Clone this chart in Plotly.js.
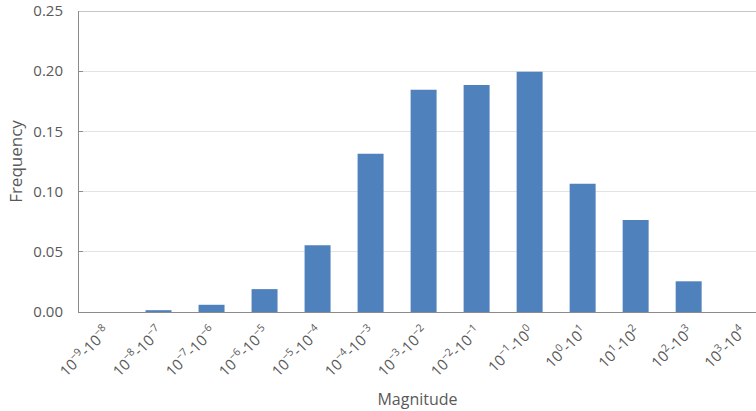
<!DOCTYPE html>
<html>
<head>
<meta charset="utf-8">
<script src="https://cdn.plot.ly/plotly-3.0.1.min.js"></script>
<style>html,body{margin:0;padding:0;background:#fff;}#chart{width:756px;height:411px;}</style>
</head>
<body>
<div id="chart"></div>
<script>
var categories = ["10<sup>−9</sup>-10<sup>−8</sup>", "10<sup>−8</sup>-10<sup>−7</sup>", "10<sup>−7</sup>-10<sup>−6</sup>",
  "10<sup>−6</sup>-10<sup>−5</sup>", "10<sup>−5</sup>-10<sup>−4</sup>", "10<sup>−4</sup>-10<sup>−3</sup>",
  "10<sup>−3</sup>-10<sup>−2</sup>", "10<sup>−2</sup>-10<sup>−1</sup>", "10<sup>−1</sup>-10<sup>0</sup>",
  "10<sup>0</sup>-10<sup>1</sup>", "10<sup>1</sup>-10<sup>2</sup>", "10<sup>2</sup>-10<sup>3</sup>",
  "10<sup>3</sup>-10<sup>4</sup>"];
var frequency = [0, 0.0015, 0.006, 0.019, 0.0555, 0.1315, 0.1845, 0.1885, 0.1995, 0.1065, 0.0765, 0.0255, 0];
var yTicks = [0, 0.05, 0.10, 0.15, 0.20, 0.25];

var trace = {
  type: 'bar',
  x: categories.map(function(c, i){ return i; }),
  y: frequency,
  marker: {color: '#4f81bd', line: {width: 0}},
  hoverinfo: 'skip'
};

var layout = {
  width: 756, height: 411,
  margin: {l: 79, r: 0, t: 11, b: 99},
  paper_bgcolor: '#fff', plot_bgcolor: '#fff',
  bargap: 0.51,
  showlegend: false,
  font: {family: 'Open Sans, sans-serif', color: '#595959'},
  xaxis: {
    tickmode: 'array',
    tickvals: categories.map(function(c, i){ return i; }),
    ticktext: categories,
    range: [-0.5, 12.27],
    tickangle: -45,
    ticks: '',
    showgrid: false,
    showline: true, linecolor: '#8c8c8c', linewidth: 1,
    tickfont: {size: 15, color: '#595959'},
    ticklabelstandoff: 4,
    title: {text: 'Magnitude', font: {size: 16, color: '#595959'}, standoff: 14},
    zeroline: false,
    automargin: false
  },
  yaxis: {
    range: [0, 0.25],
    tickvals: yTicks,
    tickformat: '.2f',
    showgrid: true, gridcolor: '#e3e3e3', gridwidth: 1,
    showline: true, linecolor: '#8c8c8c', linewidth: 1,
    ticks: 'inside', ticklen: 4, tickcolor: '#8c8c8c',
    tickfont: {size: 15, color: '#595959'},
    ticklabelstandoff: 12,
    title: {text: 'Frequency', font: {size: 17, color: '#595959'}, standoff: 6},
    zeroline: false,
    automargin: false
  },
  shapes: [{type: 'line', xref: 'paper', yref: 'y', x0: 0, x1: 1, y0: 0.25, y1: 0.25,
    line: {color: '#8c8c8c', width: 1}}]
};

Plotly.newPlot('chart', [trace], layout, {displayModeBar: false, staticPlot: true});
</script>
</body>
</html>
